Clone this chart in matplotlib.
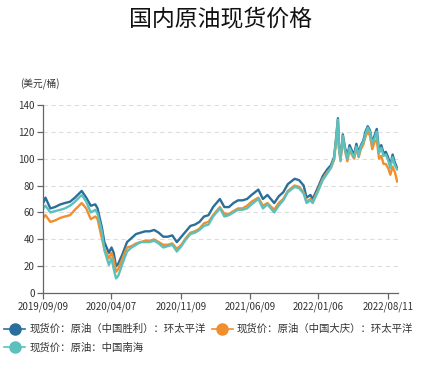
import matplotlib
matplotlib.use("Agg")
import matplotlib.pyplot as plt
from matplotlib.lines import Line2D
import pandas as pd

plt.rcParams['font.family'] = ['Noto Sans CJK SC', 'DejaVu Sans']

title = "国内原油现货价格"
unit = "(美元/桶)"
names = ["现货价：原油（中国胜利）：环太平洋",
         "现货价：原油（中国大庆）：环太平洋",
         "现货价：原油：中国南海"]
colors = ["#2a6f9b", "#f28e2b", "#5cc0bd"]

dates = ["2019-09-09", "2019-09-16", "2019-10-01", "2019-10-15", "2019-11-01", "2019-11-15",
         "2019-12-01", "2019-12-16", "2020-01-06", "2020-01-20", "2020-02-03", "2020-02-17",
         "2020-02-24", "2020-03-09", "2020-03-16", "2020-03-30", "2020-04-07", "2020-04-14",
         "2020-04-21", "2020-04-28", "2020-05-11", "2020-05-25", "2020-06-08", "2020-06-22",
         "2020-07-06", "2020-07-20", "2020-08-03", "2020-08-17", "2020-08-31", "2020-09-14",
         "2020-09-28", "2020-10-12", "2020-10-26", "2020-11-09", "2020-11-23", "2020-12-07",
         "2020-12-21", "2021-01-04", "2021-01-18", "2021-02-01", "2021-02-15", "2021-03-08",
         "2021-03-22", "2021-04-05", "2021-04-19", "2021-05-03", "2021-05-17", "2021-05-31",
         "2021-06-14", "2021-07-05", "2021-07-19", "2021-08-02", "2021-08-23", "2021-09-06",
         "2021-09-20", "2021-10-04", "2021-10-25", "2021-11-08", "2021-11-22", "2021-12-01",
         "2021-12-13", "2021-12-20", "2022-01-06", "2022-01-20", "2022-02-03", "2022-02-14",
         "2022-02-24", "2022-03-01", "2022-03-08", "2022-03-11", "2022-03-16", "2022-03-23",
         "2022-03-30", "2022-04-06", "2022-04-13", "2022-04-20", "2022-04-27", "2022-05-04",
         "2022-05-11", "2022-05-18", "2022-05-25", "2022-06-01", "2022-06-08", "2022-06-15",
         "2022-06-22", "2022-06-29", "2022-07-06", "2022-07-13", "2022-07-20", "2022-07-27",
         "2022-08-03", "2022-08-10", "2022-08-17", "2022-08-24", "2022-08-31", "2022-09-07"]

shengli = [67, 71, 63, 64, 66, 67, 68, 71, 76, 71, 65, 66,
           63, 48, 38, 30, 34, 30, 20, 22, 29, 38, 41, 44,
           45, 46, 46, 47, 45, 42, 42, 43, 38, 42, 46, 50,
           51, 53, 57, 58, 64, 70, 64, 64, 67, 69, 69, 70,
           73, 77, 70, 73, 67, 72, 75, 81, 85, 84, 80, 71,
           73, 70, 79, 87, 92, 95, 101, 112, 130, 110, 100, 118,
           108, 102, 110, 106, 103, 111, 104, 110, 113, 120, 124, 121,
           112, 117, 122, 106, 110, 104, 105, 101, 95, 103, 97, 93]
daqing = [56, 58, 53, 54, 56, 57, 58, 62, 67, 63, 55, 57,
          55, 40, 33, 26, 30, 25, 16, 18, 26, 34, 35, 37,
          38, 39, 39, 40, 38, 36, 36, 37, 33, 36, 41, 45,
          46, 48, 52, 53, 58, 64, 59, 59, 61, 63, 63, 65,
          68, 71, 65, 67, 62, 67, 70, 76, 80, 79, 75, 68,
          70, 68, 77, 85, 90, 93, 99, 110, 127, 108, 98, 116,
          106, 98, 106, 103, 100, 108, 101, 107, 110, 116, 120, 117,
          107, 112, 114, 100, 102, 96, 96, 93, 88, 94, 90, 83]
nanhai = [63, 65, 60, 61, 62, 63, 65, 68, 73, 68, 60, 62,
          59, 45, 32, 21, 26, 18, 11, 13, 22, 31, 34, 36,
          38, 38, 38, 39, 37, 34, 35, 36, 31, 35, 40, 44,
          45, 47, 50, 51, 57, 63, 57, 58, 60, 62, 62, 63,
          66, 70, 63, 66, 60, 65, 69, 75, 79, 78, 74, 67,
          69, 67, 76, 84, 89, 93, 100, 111, 129, 108, 99, 117,
          106, 100, 108, 104, 101, 109, 102, 109, 112, 118, 123, 120,
          111, 115, 120, 104, 108, 102, 103, 99, 93, 101, 95, 92]

tick_dates = ["2019-09-09", "2020-04-07", "2020-11-09", "2021-06-09", "2022-01-06", "2022-08-11"]
tick_labels = ["2019/09/09", "2020/04/07", "2020/11/09", "2021/06/09", "2022/01/06", "2022/08/11"]
yticks = [0, 20, 40, 60, 80, 100, 120, 140]

x = pd.to_datetime(dates)
fig = plt.figure(figsize=(4.41, 3.76), dpi=100)
ax = fig.add_axes([0.098, 0.22, 0.804, 0.5015])

handles = []
for series, c in [(shengli, colors[0]), (daqing, colors[1]), (nanhai, colors[2])]:
    ax.plot(x, series, color=c, lw=1.7, solid_joinstyle='round')
    handles.append(Line2D([0], [0], color=c, lw=1.2, marker='o', markersize=8, markeredgecolor=c))

ax.set_xlim(pd.Timestamp("2019-09-09"), pd.Timestamp("2022-09-09"))
ax.set_ylim(0, 140)
ax.set_yticks(yticks)
ax.set_xticks(pd.to_datetime(tick_dates))
ax.set_xticklabels(tick_labels)
ax.grid(axis='y', color='#dddddd', linestyle=(0, (4, 3)), lw=0.8)
ax.set_axisbelow(True)
for s in ['top', 'right']:
    ax.spines[s].set_visible(False)
for s in ['left', 'bottom']:
    ax.spines[s].set_color('#666666')
    ax.spines[s].set_linewidth(0.9)
ax.tick_params(axis='both', colors='#666666', labelcolor='#333333', labelsize=7, length=4, width=0.9, pad=2)

fig.text(0.5, 0.948, title, ha='center', va='center', fontsize=16.5, color='#111111')
fig.text(0.045, 0.775, unit, ha='left', va='center', fontsize=7, color='#333333')

order = [0, 2, 1]
leg = fig.legend([handles[i] for i in order], [names[i] for i in order], ncol=2,
                 loc='upper left', bbox_to_anchor=(0.0, 0.150),
                 frameon=False, fontsize=7.5, handlelength=2.0, handletextpad=0.4,
                 columnspacing=0.6, labelspacing=0.75, borderaxespad=0)
for t in leg.get_texts():
    t.set_color('#333333')

fig.savefig("out.png", dpi=100)
